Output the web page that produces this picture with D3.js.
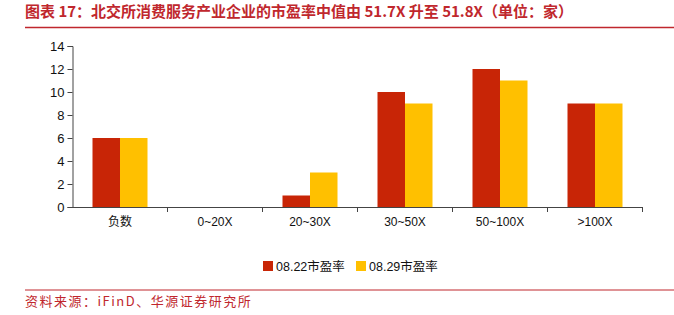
<!DOCTYPE html>
<html>
<head>
<meta charset="utf-8">
<script src="https://cdn.jsdelivr.net/npm/d3@7"></script>
<style>
  body { margin: 0; background: #fff; }
  svg { display: block; }
</style>
</head>
<body>
<svg width="674" height="315"></svg>
<script>
const categories = ['负数', '0~20X', '20~30X', '30~50X', '50~100X', '>100X'];
const seriesNames = ['08.22市盈率', '08.29市盈率'];
const pe0822 = [6, 0, 1, 10, 12, 9];
const pe0829 = [6, 0, 3, 9, 11, 9];
const yTicks = [0, 2, 4, 6, 8, 10, 12, 14];
const colors = ['#C82506', '#FFC000'];

const svg = d3.select('svg');
const red = '#C0272D';
const cjk = '"Noto Sans CJK SC", "Noto Sans", sans-serif';
const latin = 'Arial, "Liberation Sans", "Noto Sans CJK SC", sans-serif';

// title + rule
svg.append('text')
  .attr('x', 25).attr('y', 17)
  .attr('fill', red)
  .attr('font-family', cjk)
  .attr('font-size', 15)
  .attr('font-weight', 'bold')
  .text('图表 17：北交所消费服务产业企业的市盈率中值由 51.7X 升至 51.8X（单位：家）');
svg.append('line')
  .attr('x1', 25).attr('x2', 674).attr('y1', 27.5).attr('y2', 27.5)
  .attr('stroke', red).attr('stroke-width', 1.5);

const plotLeft = 72.5, plotRight = 642.5, plotTop = 46, plotBottom = 207;

const x = d3.scaleBand().domain(categories).range([plotLeft, plotRight]);
const y = d3.scaleLinear().domain([0, 14]).range([plotBottom, plotTop]);
const xs = d3.scaleBand().domain(seriesNames).range([0, 55]);

const groups = svg.append('g').selectAll('g')
  .data(categories)
  .enter().append('g')
  .attr('transform', d => `translate(${x(d) + x.bandwidth() / 2 - 27.5},0)`);

groups.selectAll('rect')
  .data((d, i) => [pe0822[i], pe0829[i]].map((v, j) => ({ v, s: seriesNames[j], j })))
  .enter().append('rect')
  .attr('x', d => xs(d.s))
  .attr('y', d => y(d.v))
  .attr('width', xs.bandwidth())
  .attr('height', d => plotBottom - y(d.v))
  .attr('fill', d => colors[d.j]);

// y axis
const yAxis = svg.append('g')
  .attr('transform', `translate(${plotLeft},0)`)
  .call(d3.axisLeft(y).tickValues(yTicks).tickSize(5).tickPadding(3));
yAxis.select('.domain').attr('stroke', '#444');
yAxis.selectAll('.tick line').attr('stroke', '#444');
yAxis.selectAll('text').attr('font-family', latin).attr('font-size', 13).attr('fill', '#111');

// x axis
const xAxis = svg.append('g')
  .attr('transform', `translate(0,${plotBottom})`)
  .call(d3.axisBottom(x).tickSize(0).tickPadding(10));
xAxis.select('.domain').attr('stroke', '#444');
xAxis.selectAll('text').attr('font-family', latin).attr('font-size', 12).attr('fill', '#111');
// separators between categories and at the axis end
svg.append('g').selectAll('line')
  .data(categories.slice(1).map(c => x(c)).concat([plotRight]))
  .enter().append('line')
  .attr('x1', d => d).attr('x2', d => d)
  .attr('y1', plotBottom).attr('y2', plotBottom + 5)
  .attr('stroke', '#444');

// legend
const legend = svg.append('g').attr('transform', 'translate(263,266)');
const lx = [0, 93];
seriesNames.forEach((name, i) => {
  legend.append('rect')
    .attr('x', lx[i]).attr('y', -5).attr('width', 10).attr('height', 10)
    .attr('fill', colors[i]);
  legend.append('text')
    .attr('x', lx[i] + 13).attr('y', 5)
    .attr('font-family', latin).attr('font-size', 12.5).attr('fill', '#111')
    .text(name);
});

// footer
svg.append('line')
  .attr('x1', 25).attr('x2', 674).attr('y1', 290).attr('y2', 290)
  .attr('stroke', red).attr('stroke-width', 1);
svg.append('text')
  .attr('x', 25).attr('y', 306)
  .attr('fill', red)
  .attr('font-family', cjk)
  .attr('font-size', 13)
  .attr('letter-spacing', 1.5)
  .text('资料来源：iFinD、华源证券研究所');
</script>
</body>
</html>
